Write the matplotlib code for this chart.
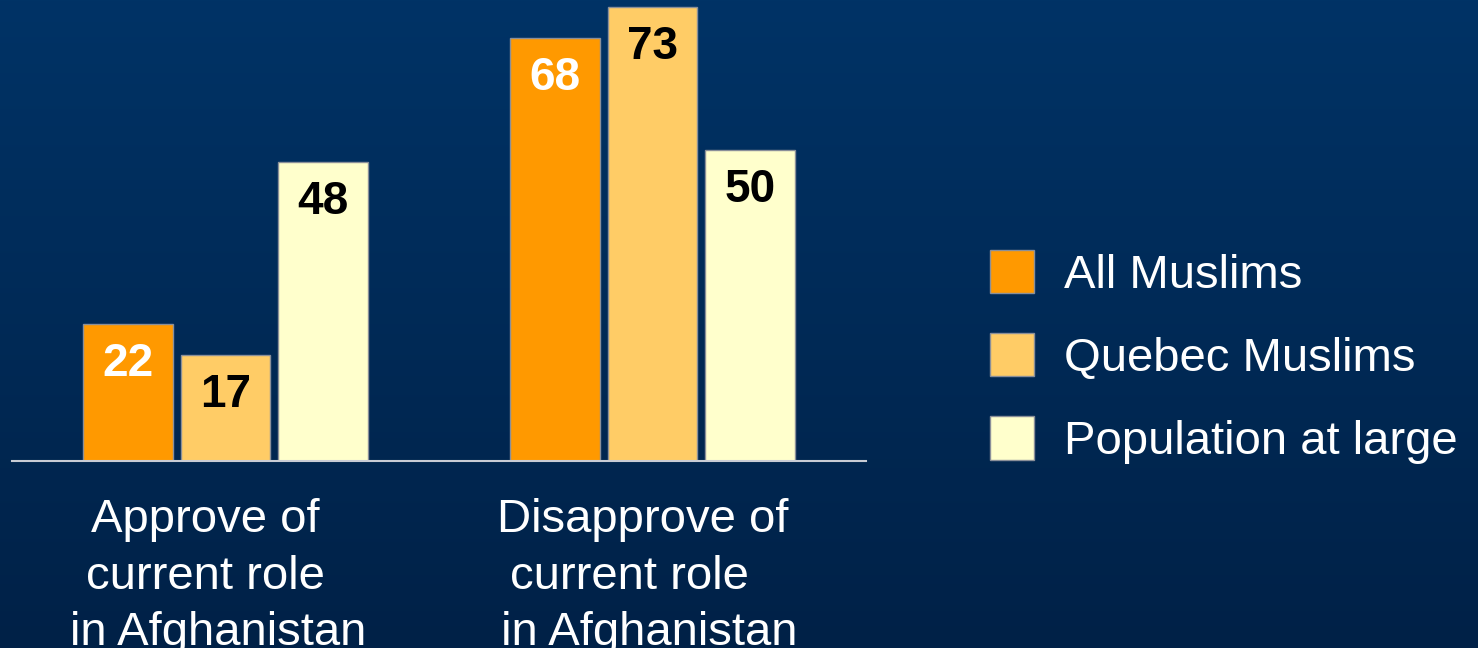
"""Afghanistan opinion bar chart"""

import numpy as np
import matplotlib.pyplot as plt
from matplotlib.patches import Patch
from matplotlib.colors import LinearSegmentedColormap

plt.rcParams['font.family'] = ['Liberation Sans', 'DejaVu Sans']

categories = ['Approve of  \ncurrent role  \nin Afghanistan',
              'Disapprove of\ncurrent role  \n in Afghanistan']
series_names = ['All Muslims', 'Quebec Muslims', 'Population at large']
all_muslims = [22, 68]
quebec_muslims = [17, 73]
population = [48, 50]

series = [all_muslims, quebec_muslims, population]
colors = ['#FF9900', '#FFCC66', '#FFFFCC']
label_colors = ['white', 'black', 'black']

fig = plt.figure(figsize=(14.78, 6.48), dpi=100)

# dark blue backdrop, slightly darker towards the bottom
bg = fig.add_axes([0, 0, 1, 1], zorder=-10)
grad = LinearSegmentedColormap.from_list('bg', ['#003366', '#002147'])
bg.imshow(np.linspace(0, 1, 256).reshape(-1, 1), aspect='auto', cmap=grad,
          extent=[0, 1, 0, 1])
bg.axis('off')

ax = fig.add_axes([12 / 1478, 187 / 648, 854 / 1478, 461 / 648])
ax.set_facecolor('none')

x = np.arange(len(categories))
width = 0.21
step = 0.229

for i, (vals, col, lc) in enumerate(zip(series, colors, label_colors)):
    pos = x + (i - 1) * step
    ax.bar(pos, vals, width, color=col, edgecolor='#8a8f99', linewidth=1)
    for p, v in zip(pos, vals):
        ax.text(p, v - 6.4, str(v), ha='center', va='center',
                fontsize=33, fontweight='bold', color=lc)

ax.set_xlim(-0.5, 1.5)
ax.set_ylim(0, 74.1)
ax.set_xticks([])
ax.set_yticks([])
for side in ['top', 'right', 'left']:
    ax.spines[side].set_visible(False)
ax.spines['bottom'].set_color('#c8ccd4')
ax.spines['bottom'].set_linewidth(1.5)

# category captions under each group (nudged left a little)
nudge = [-5, -7]
for xi, cat, dx in zip(x, categories, nudge):
    ax.annotate(cat, xy=(xi, 0), xytext=(dx, -27), textcoords='offset points',
                ha='center', va='top', multialignment='center',
                fontsize=34, color='white', linespacing=1.36,
                annotation_clip=False)

handles = [Patch(facecolor=c, edgecolor='#8a8f99', linewidth=1) for c in colors]
fig.legend(handles, series_names, loc='center left',
           bbox_to_anchor=(990 / 1478, 0.449), frameon=False,
           fontsize=34, labelcolor='white', handlelength=0.93,
           handleheight=1.03, handletextpad=0.64, labelspacing=0.75,
           borderpad=0, borderaxespad=0)

plt.savefig('out.png', dpi=100)
plt.close()
